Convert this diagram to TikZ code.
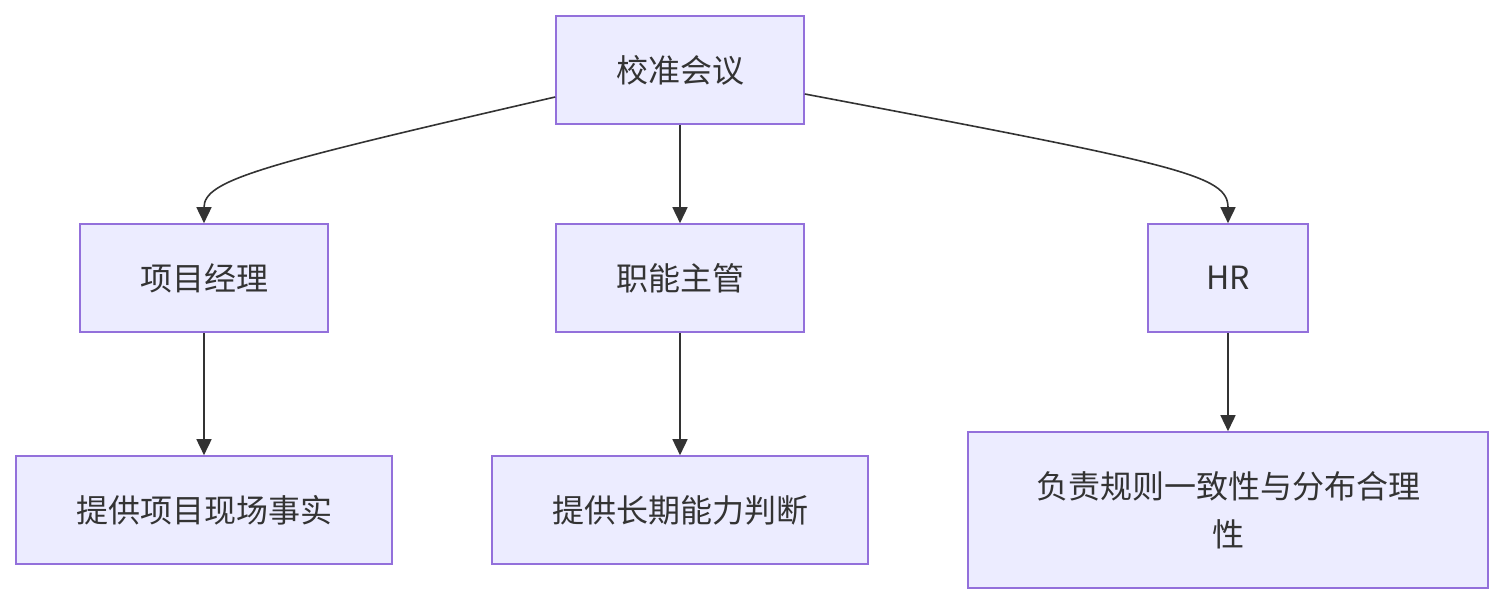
\documentclass[tikz,border=0pt]{standalone}
\usepackage{fontspec}
\setmainfont{Noto Sans CJK SC}
\usetikzlibrary{arrows.meta}
\definecolor{boxfill}{HTML}{ECECFF}
\definecolor{boxline}{HTML}{9370DB}
\definecolor{ink}{HTML}{333333}
\begin{document}
\begin{tikzpicture}[x=1pt,y=-1pt,
  box/.style={draw=boxline,fill=boxfill,line width=1.6pt,inner sep=0pt,
    text=ink,font=\fontsize{32}{48}\selectfont,align=center},
  conn/.style={draw=ink,line width=1.6pt,-{Triangle[length=16pt,width=15pt]}}]
\useasboundingbox (0,0) rectangle (1504,604);
\node[box,minimum width=248pt,minimum height=108pt] (a) at (680,70) {校准会议};
\node[box,minimum width=248pt,minimum height=108pt] (b) at (204,278) {项目经理};
\node[box,minimum width=248pt,minimum height=108pt] (c) at (680,278) {职能主管};
\node[box,minimum width=160pt,minimum height=108pt] (d) at (1228,278) {HR};
\node[box,minimum width=376pt,minimum height=108pt] (e) at (204,510) {提供项目现场事实};
\node[box,minimum width=376pt,minimum height=108pt] (f) at (680,510) {提供长期能力判断};
\node[box,minimum width=520pt,minimum height=156pt] (g) at (1228,510) {负责规则一致性与分布合理\\性};
\draw[conn] (a.west |- 0,97) .. controls (260,165) and (204,180) .. (b.north);
\draw[conn] (a.south) -- (c.north);
\draw[conn] (a.east |- 0,94) .. controls (1180,165) and (1228,175) .. (d.north);
\draw[conn] (b.south) -- (e.north);
\draw[conn] (c.south) -- (f.north);
\draw[conn] (d.south) -- (g.north);
\end{tikzpicture}
\end{document}
